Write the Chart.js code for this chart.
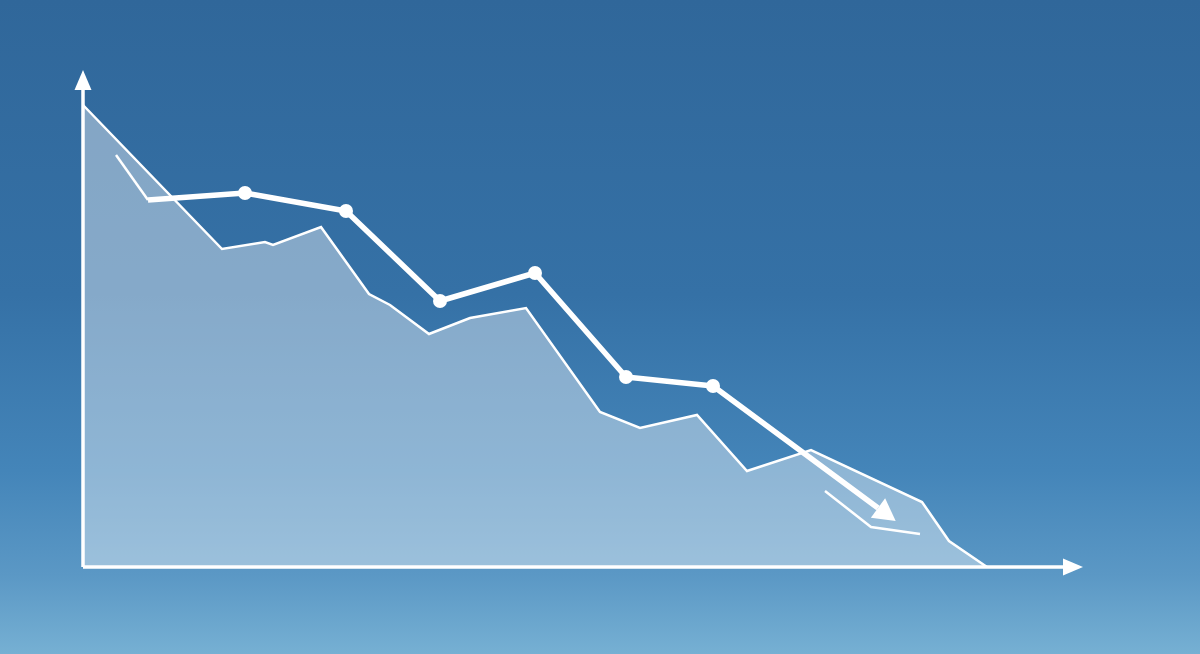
<!DOCTYPE html>
<html>
<head>
<meta charset="utf-8">
<script src="https://cdn.jsdelivr.net/npm/chart.js@4/dist/chart.umd.min.js"></script>
<style>
html,body{margin:0;padding:0;background:#3a76aa;overflow:hidden;}
canvas{display:block;}
</style>
</head>
<body>
<canvas id="c" width="1200" height="654"></canvas>
<script>
// Data (units: x along horizontal axis, y height above horizontal axis)
const areaX = [0,139,182,190,238,286,307,346,387,443,517,557,614,664,728,839,866,904];
const areaY = [462,318,325,322,340,273,262,233,249,259,155,139,152,96,117,65,26,0];

const leadX = [33,65];
const leadY = [412,367];

const trendX = [65,162,263,357,452,543,630,795];
const trendY = [367,374,356,266,294,190,181,59];

const tailX = [742,788,837];
const tailY = [76,40,33];

const yAxisX = [0,0];
const yAxisY = [0,477];
const xAxisX = [0,980];
const xAxisY = [0,0];

const zip = (xs, ys) => xs.map((x, i) => ({x, y: ys[i]}));

const bgPlugin = {
  id: 'bg',
  beforeDraw(chart) {
    const {ctx, width, height} = chart;
    const g = ctx.createLinearGradient(0, 0, 0, height);
    g.addColorStop(0, '#30679a');
    g.addColorStop(0.45, '#3571a6');
    g.addColorStop(0.72, '#4485b9');
    g.addColorStop(0.88, '#5b98c5');
    g.addColorStop(1, '#76b0d3');
    ctx.save();
    ctx.fillStyle = g;
    ctx.fillRect(0, 0, width, height);
    ctx.restore();
  }
};

const arrowPlugin = {
  id: 'arrows',
  afterDatasetsDraw(chart) {
    const ctx = chart.ctx;
    chart.data.datasets.forEach((ds, i) => {
      if (!ds.arrow) return;
      const pts = chart.getDatasetMeta(i).data;
      const a = pts[pts.length - 2], b = pts[pts.length - 1];
      const ang = Math.atan2(b.y - a.y, b.x - a.x);
      const L = ds.arrow.len, W = ds.arrow.half;
      const tipX = b.x + L * Math.cos(ang), tipY = b.y + L * Math.sin(ang);
      const px = -Math.sin(ang), py = Math.cos(ang);
      ctx.save();
      ctx.fillStyle = '#ffffff';
      ctx.beginPath();
      ctx.moveTo(tipX, tipY);
      ctx.lineTo(b.x + px * W, b.y + py * W);
      ctx.lineTo(b.x - px * W, b.y - py * W);
      ctx.closePath();
      ctx.fill();
      ctx.restore();
    });
  }
};

const trendRadius = trendX.map((_, i) => (i === 0 || i === trendX.length - 1) ? 0 : 7);

new Chart(document.getElementById('c'), {
  type: 'scatter',
  data: {
    datasets: [
      {
        data: zip(areaX, areaY),
        showLine: true,
        fill: 'origin',
        backgroundColor: 'rgba(255,255,255,0.40)',
        borderColor: '#ffffff',
        borderWidth: 2.5,
        pointRadius: 0,
        tension: 0,
        order: 5
      },
      {
        data: zip(leadX, leadY),
        showLine: true,
        borderColor: '#ffffff',
        borderWidth: 2.5,
        pointRadius: 0,
        order: 4
      },
      {
        data: zip(tailX, tailY),
        showLine: true,
        borderColor: '#ffffff',
        borderWidth: 2.5,
        pointRadius: 0,
        order: 4
      },
      {
        data: zip(trendX, trendY),
        showLine: true,
        borderColor: '#ffffff',
        borderWidth: 5.5,
        pointRadius: trendRadius,
        pointBackgroundColor: '#ffffff',
        pointBorderWidth: 0,
        borderJoinStyle: 'round',
        arrow: {len: 22, half: 12},
        order: 1
      },
      {
        data: zip(yAxisX, yAxisY),
        showLine: true,
        borderColor: '#ffffff',
        borderWidth: 3.5,
        pointRadius: 0,
        arrow: {len: 20, half: 8.5},
        order: 2
      },
      {
        data: zip(xAxisX, xAxisY),
        showLine: true,
        borderColor: '#ffffff',
        borderWidth: 3.5,
        pointRadius: 0,
        arrow: {len: 20, half: 8.5},
        order: 2
      }
    ]
  },
  options: {
    responsive: false,
    animation: false,
    devicePixelRatio: 1,
    layout: {padding: 0},
    plugins: {legend: {display: false}, tooltip: {enabled: false}},
    scales: {
      x: {type: 'linear', display: false, min: -83, max: 1117},
      y: {type: 'linear', display: false, min: -87, max: 567}
    },
    clip: false
  },
  plugins: [bgPlugin, arrowPlugin]
});
</script>
</body>
</html>
